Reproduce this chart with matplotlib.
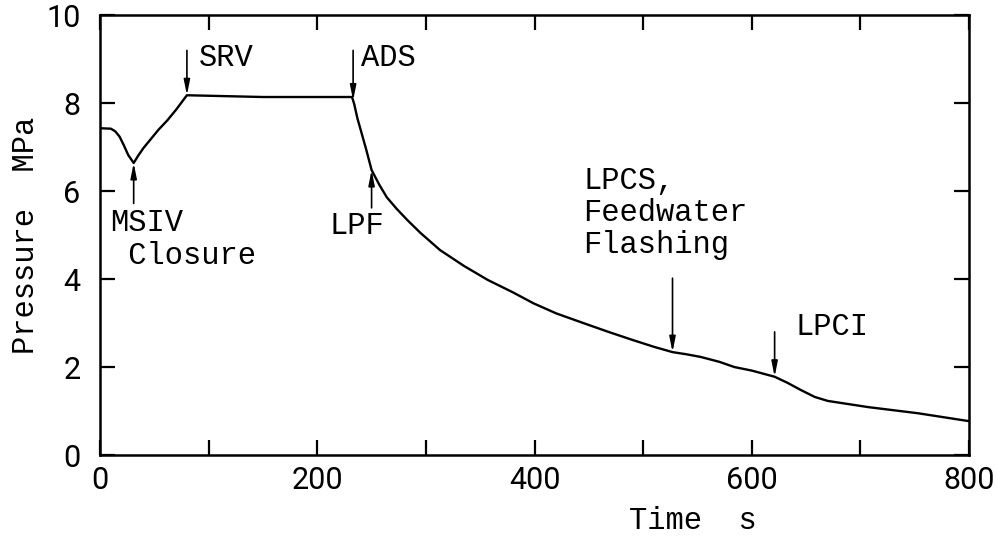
import numpy as np
import matplotlib
matplotlib.use("Agg")
import matplotlib.pyplot as plt

# ---- data ----
time_s = [0, 10, 14, 18, 22, 26, 31, 35, 40, 46, 54, 62, 70, 80, 150, 232,
          234, 237, 240, 245, 250, 257, 264, 273, 283, 295, 313, 335, 357,
          380, 399, 420, 445, 468, 491, 510, 527, 540, 553, 570, 584, 600,
          621, 633, 645, 658, 670, 707, 753, 800]
pressure_mpa = [7.43, 7.42, 7.36, 7.24, 7.04, 6.82, 6.64, 6.80, 6.98, 7.16,
                7.40, 7.61, 7.85, 8.18, 8.14, 8.14,
                7.98, 7.65, 7.39, 6.95, 6.48, 6.15, 5.86, 5.60, 5.34, 5.05,
                4.66, 4.30, 3.98, 3.70, 3.45, 3.22, 3.00, 2.80, 2.61, 2.46,
                2.34, 2.29, 2.23, 2.12, 2.00, 1.92, 1.78, 1.64, 1.48, 1.32,
                1.23, 1.09, 0.95, 0.77]

# event annotations: time, arrow tail pressure, label, label x, label y, align
event_t = [80, 31, 233, 250, 527, 621]
event_tail = [9.2, 5.72, 9.2, 5.62, 4.02, 2.8]
event_label = ["SRV", "MSIV\n Closure", "ADS", "LPF", "LPCS,\nFeedwater\nFlashing", "LPCI"]
label_x = [91, 9, 240, 262, 445, 640]
label_y = [9.02, 4.9, 9.02, 5.2, 5.5, 2.92]
label_ha = ["left", "left", "left", "right", "left", "left"]

xticks = [0, 200, 400, 600, 800]
yticks = [0, 2, 4, 6, 8, 10]

mono = "Liberation Mono"

fig = plt.figure(figsize=(9.97, 5.43), dpi=100)
ax = fig.add_axes([0.1003, 0.162, 0.8717, 0.810])

ax.plot(time_s, pressure_mpa, color="black", lw=1.7, solid_joinstyle="round")

ax.set_xlim(0, 800)
ax.set_ylim(0, 10)
ax.set_xticks(xticks)
ax.set_xticks(np.arange(0, 801, 100), minor=True)
ax.set_yticks(yticks)
ax.tick_params(which="both", direction="in", top=True, right=True,
               width=1.6, color="black", length=11)
ax.tick_params(axis="x", pad=8, labelsize=22)
ax.tick_params(axis="y", pad=14, labelsize=22)
for lab in ax.get_xticklabels() + ax.get_yticklabels():
    lab.set_fontfamily("Roboto")
    lab.set_fontweight("normal")
for s in ax.spines.values():
    s.set_linewidth(1.8)

ax.set_ylabel("Pressure  MPa", fontfamily=mono, fontsize=22, labelpad=4)
ax.text(546, -1.5, "Time  s", fontfamily=mono, fontsize=22, ha="center", va="center")

for t, tail, lab, lx, ly, ha in zip(event_t, event_tail, event_label, label_x, label_y, label_ha):
    tip = float(np.interp(t, time_s, pressure_mpa))
    ax.annotate("", xy=(t, tip), xytext=(t, tail),
                arrowprops=dict(arrowstyle="-|>,head_length=0.9,head_width=0.18",
                                color="black", lw=1.2, shrinkA=0, shrinkB=0))
    ax.text(lx, ly, lab, fontfamily=mono, fontsize=22, ha=ha, va="center",
            linespacing=1.1)

fig.savefig("out.png", dpi=100)
